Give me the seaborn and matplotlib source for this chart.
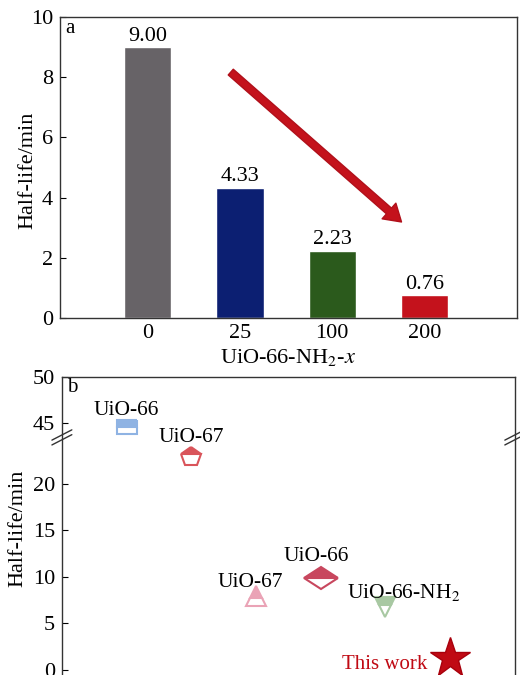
import numpy as np
import matplotlib
matplotlib.use('Agg')
import matplotlib.pyplot as plt
from matplotlib.markers import MarkerStyle
from matplotlib.transforms import Affine2D
import seaborn as sns

# 数据
x_labels = ['0', '25', '100', '200']
half_life = [9.00, 4.33, 2.23, 0.76]
bar_colors = ['#676367', '#0c1f72', '#2b5a1c', '#c4121c']

mof_names = ['UiO-66', 'UiO-67', 'UiO-67', 'UiO-66', 'UiO-66-NH$_2$', 'This work']
mof_pos = [1, 2, 3, 4, 5, 6]
mof_half_life = [44.6, 22.9, 7.9, 9.9, 6.7, 1.3]
mof_markers = ['s', 'p', '^', 'D', 'v', '*']
mof_colors = ['#8fb3e3', '#d9545a', '#eaa3b6', '#c8475e', '#a8c8a2', '#c00a14']

sns.set_style('white')
plt.rcParams['font.family'] = ['Liberation Serif', 'DejaVu Serif']
plt.rcParams['mathtext.fontset'] = 'stix'
plt.rcParams['font.size'] = 16
plt.rcParams['text.color'] = 'black'
plt.rcParams['axes.labelcolor'] = 'black'
plt.rcParams['xtick.color'] = 'black'
plt.rcParams['ytick.color'] = 'black'

fig = plt.figure(figsize=(5.2, 6.75), dpi=100)

# 图 a：柱状图
ax1 = fig.add_axes([0.1154, 0.5289, 0.8786, 0.4459])
sns.barplot(x=x_labels, y=half_life, hue=x_labels, palette=bar_colors,
            width=0.51, saturation=1, legend=False, ax=ax1)
for c in ax1.containers:
    ax1.bar_label(c, fmt='%.2f', padding=1, fontsize=16)
ax1.set_xlim(-0.95, 4.0)
ax1.set_ylim(0, 10)
ax1.set_yticks([0, 2, 4, 6, 8, 10])
ax1.set_ylabel('Half-life/min', fontsize=16)
ax1.yaxis.set_label_coords(-0.05, 0.49)
ax1.set_xlabel('UiO-66-NH$_2$-$x$', fontsize=16, labelpad=3)
ax1.tick_params(axis='y', direction='in', length=4, left=True, labelsize=16, pad=5)
ax1.tick_params(axis='x', length=0, labelsize=16, pad=4)
ax1.text(0.012, 0.995, 'a', transform=ax1.transAxes, ha='left', va='top', fontsize=15)
ax1.annotate('', xy=(2.75, 3.19), xytext=(0.90, 8.17),
             arrowprops=dict(facecolor='#c4121c', edgecolor='#b0101a',
                             width=5.5, headwidth=15, headlength=12))
for s in ax1.spines.values():
    s.set_color('#333333')
    s.set_linewidth(1)

# 图 b：断轴散点图
ax2 = fig.add_axes([0.119, -0.006, 0.871, 0.4475])
gap = 18.5


def fwd(y):
    y = np.asarray(y, dtype=float)
    return np.where(y > 25, y - gap, y)


def inv(y):
    y = np.asarray(y, dtype=float)
    return np.where(y > 25, y + gap, y)


ax2.set_yscale('function', functions=(fwd, inv))
for i in range(len(mof_pos)):
    if mof_markers[i] == '*':
        ax2.plot(mof_pos[i], mof_half_life[i], marker='*', markersize=30,
                 color=mof_colors[i], markeredgecolor='#a8000c', linestyle='none')
    else:
        ms = {'s': 12, 'p': 15, '^': 15, 'D': 13, 'v': 15}[mof_markers[i]]
        sx, sy = {'s': (1.2, 0.85), 'D': (1.35, 0.85)}.get(mof_markers[i], (1, 1))
        m = MarkerStyle(mof_markers[i], fillstyle='top',
                        transform=Affine2D().scale(sx, sy))
        ax2.plot(mof_pos[i], mof_half_life[i], marker=m, markersize=ms,
                 markerfacecolor=mof_colors[i],
                 markerfacecoloralt='white', markeredgecolor=mof_colors[i],
                 markeredgewidth=1.5, linestyle='none')

offsets = [(0, 12), (0, 14), (-4, 10), (-3, 15), (13, 11), (-16, -5)]
for i in range(len(mof_pos)):
    is_this = mof_names[i] == 'This work'
    ax2.annotate(mof_names[i], (mof_pos[i], mof_half_life[i]), xytext=offsets[i],
                 textcoords='offset points', ha='right' if is_this else 'center',
                 va='center', fontsize=15.5 if not is_this else 15,
                 color='#c00a14' if is_this else 'black')

ax2.set_xlim(0, 7)
ax2.set_ylim(-1, 50)
ax2.set_xticks([])
ax2.set_yticks([0, 5, 10, 15, 20, 45, 50])
ax2.set_yticklabels(['0', '5', '10', '15', '20', '45', '50'])
ax2.minorticks_off()
ax2.set_ylabel('Half-life/min', fontsize=16, labelpad=4)
ax2.tick_params(axis='y', direction='in', length=4, left=True, labelsize=16, pad=5)
ax2.text(0.012, 0.995, 'b', transform=ax2.transAxes, ha='left', va='top', fontsize=15)
for s in ax2.spines.values():
    s.set_color('#333333')
    s.set_linewidth(1)

# 断轴标记
yb = (25 + 1) / 32.5
for xa in (0, 1):
    for dy in (-0.008, 0.008):
        ax2.plot([xa - 0.022, xa + 0.022], [yb + dy - 0.017, yb + dy + 0.017],
                 transform=ax2.transAxes, color='#333333', lw=1, clip_on=False)

fig.savefig('out.png', dpi=100)
